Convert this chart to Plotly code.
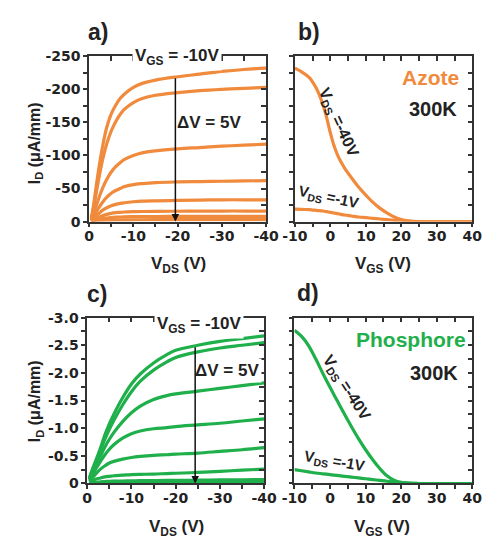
import plotly.graph_objects as go

# ---------------- DATA ----------------
# Panel a (Azote): output characteristics, I_D (uA/mm) vs V_DS (V); V_GS from -10 V, step 5 V
vds_a = [-0.5, -1, -2, -3, -4, -5, -6, -7, -8, -10, -12, -15, -20, -25, -30, -35, -40]
id_a_vgs_m10 = [-5, -25, -72, -112, -143, -163, -176, -186, -193, -203, -209, -214, -219, -223, -227, -230, -232]
id_a_vgs_m5 = [-4, -20, -58, -92, -118, -137, -151, -162, -170, -180, -186, -191, -195, -198, -200, -201.5, -203]
id_a_vgs_0 = [-2, -12, -32, -50, -64, -75, -83, -89, -94, -100, -104, -107, -110, -112, -114, -115.5, -117]
id_a_vgs_5 = [-1, -7, -19, -29, -37, -43, -47, -50, -53, -56, -57.5, -59, -60, -60.5, -61, -61.5, -62]
id_a_vgs_10 = [-1, -4, -11, -17, -21, -24, -26, -27.5, -28.5, -30, -31, -31.5, -32, -32.5, -33, -33, -33]
id_a_vgs_15 = [-0.5, -2, -6, -9, -11, -12.5, -13.5, -14, -14.5, -15, -15.3, -15.5, -15.7, -15.8, -16, -16, -16]
id_a_vgs_20 = [-0.3, -1, -3, -4.5, -5.5, -6.2, -6.7, -7, -7.2, -7.5, -7.6, -7.7, -7.8, -7.9, -8, -8, -8]
id_a_vgs_25 = [-0.1, -0.5, -1.2, -1.8, -2.1, -2.3, -2.5, -2.6, -2.7, -2.8, -2.85, -2.9, -2.9, -2.95, -3, -3, -3]

# Panel b (Azote): transfer characteristics, I_D (uA/mm) vs V_GS (V)
vgs_b = [-10, -8, -6, -5, -4, -3, -2, -1, 0, 1, 2, 3, 4, 6, 8, 10, 12, 14, 16, 18, 20, 22, 25, 30, 35, 40]
id_b_vds_m40 = [-232, -226, -218, -211, -202, -190, -175, -156, -134, -115, -101, -90, -81, -66, -52, -40, -29, -20, -13, -7, -3, -1, 0, 0, 0, 0]
id_b_vds_m1 = [-19, -18.5, -18, -17.5, -17, -16.5, -16, -15, -14, -13, -12, -11, -10, -8.5, -7, -6, -5, -4, -3, -2, -1.2, -0.6, 0, 0, 0, 0]

# Panel c (Phosphore): output characteristics, I_D (uA/mm) vs V_DS (V)
vds_c = [-0.5, -1, -2, -3, -4, -5, -6, -8, -10, -12, -15, -18, -20, -25, -30, -35, -40]
id_c_vgs_m10 = [-0.10, -0.22, -0.43, -0.64, -0.88, -1.08, -1.25, -1.55, -1.80, -1.98, -2.18, -2.33, -2.41, -2.50, -2.57, -2.62, -2.67]
id_c_vgs_m5 = [-0.09, -0.20, -0.40, -0.60, -0.80, -0.98, -1.14, -1.42, -1.66, -1.85, -2.05, -2.20, -2.28, -2.38, -2.45, -2.50, -2.55]
id_c_vgs_0 = [-0.08, -0.17, -0.34, -0.50, -0.66, -0.80, -0.92, -1.12, -1.28, -1.40, -1.52, -1.59, -1.62, -1.67, -1.72, -1.77, -1.82]
id_c_vgs_5 = [-0.06, -0.13, -0.27, -0.40, -0.52, -0.62, -0.70, -0.82, -0.90, -0.95, -0.99, -1.01, -1.03, -1.06, -1.09, -1.13, -1.17]
id_c_vgs_10 = [-0.04, -0.09, -0.18, -0.26, -0.32, -0.37, -0.40, -0.44, -0.47, -0.49, -0.51, -0.52, -0.53, -0.55, -0.58, -0.61, -0.65]
id_c_vgs_15 = [-0.02, -0.04, -0.08, -0.10, -0.12, -0.13, -0.14, -0.15, -0.16, -0.165, -0.17, -0.18, -0.185, -0.20, -0.22, -0.24, -0.26]
id_c_vgs_20 = [-0.005, -0.01, -0.02, -0.03, -0.035, -0.04, -0.042, -0.045, -0.048, -0.05, -0.052, -0.055, -0.056, -0.06, -0.064, -0.067, -0.07]
id_c_vgs_25 = [-0.002, -0.004, -0.007, -0.01, -0.012, -0.013, -0.014, -0.015, -0.016, -0.016, -0.017, -0.017, -0.018, -0.018, -0.019, -0.02, -0.02]

# Panel d (Phosphore): transfer characteristics, I_D (uA/mm) vs V_GS (V)
vgs_d = [-10, -8, -6, -4, -2, 0, 2, 4, 6, 8, 10, 12, 14, 16, 18, 20, 22, 25, 30, 35, 40]
id_d_vds_m40 = [-2.77, -2.66, -2.49, -2.25, -1.99, -1.74, -1.50, -1.26, -1.03, -0.81, -0.61, -0.43, -0.27, -0.14, -0.06, -0.02, -0.005, 0, 0, 0, 0]
id_d_vds_m1 = [-0.25, -0.23, -0.21, -0.19, -0.175, -0.16, -0.145, -0.13, -0.115, -0.10, -0.085, -0.07, -0.055, -0.04, -0.03, -0.015, -0.005, 0, 0, 0, 0]

x_ticks_out = [0, -5, -10, -15, -20, -25, -30, -35, -40]
x_text_out = ["0", "", "-10", "", "-20", "", "-30", "", "-40"]
x_ticks_tr = [-10, -5, 0, 5, 10, 15, 20, 25, 30, 35, 40]
x_text_tr = ["-10", "", "0", "", "10", "", "20", "", "30", "", "40"]
y_ticks_a = [0, -25, -50, -75, -100, -125, -150, -175, -200, -225, -250]
y_text_a = ["0", "", "-50", "", "-100", "", "-150", "", "-200", "", "-250"]
y_ticks_c = [0, -0.25, -0.5, -0.75, -1.0, -1.25, -1.5, -1.75, -2.0, -2.25, -2.5, -2.75, -3.0]
y_text_c = ["0", "", "-0.5", "", "-1.0", "", "-1.5", "", "-2.0", "", "-2.5", "", "-3.0"]

# ---------------- STYLE ----------------
# The page body keeps its default 8 px margin, so the figure is 16 px smaller than the window
# and every target pixel position (measured in the window) is shifted by 8 px.
WIN_W, WIN_H = 499, 547
MARG = 8
W, H = WIN_W - 2 * MARG, WIN_H - 2 * MARG
ORANGE = "#F08A3C"
GREEN = "#1FAF4B"
AX = "#333333"
FONT = "Liberation Sans"
TFONT = "DejaVu Sans"


def px(x):
    return (x - MARG) / W


def py(y):
    return 1 - (y - MARG) / H


fig = go.Figure()

curves_a = [id_a_vgs_m10, id_a_vgs_m5, id_a_vgs_0, id_a_vgs_5, id_a_vgs_10, id_a_vgs_15, id_a_vgs_20, id_a_vgs_25]
curves_c = [id_c_vgs_m10, id_c_vgs_m5, id_c_vgs_0, id_c_vgs_5, id_c_vgs_10, id_c_vgs_15, id_c_vgs_20, id_c_vgs_25]

for c in curves_a:
    fig.add_trace(go.Scatter(x=vds_a, y=c, mode="lines", line=dict(color=ORANGE, width=3.2, shape="spline"),
                             xaxis="x", yaxis="y", showlegend=False))
for c in [id_b_vds_m40, id_b_vds_m1]:
    fig.add_trace(go.Scatter(x=vgs_b, y=c, mode="lines", line=dict(color=ORANGE, width=3.2, shape="spline"),
                             xaxis="x2", yaxis="y2", showlegend=False))
for c in curves_c:
    fig.add_trace(go.Scatter(x=vds_c, y=c, mode="lines", line=dict(color=GREEN, width=3.2, shape="spline"),
                             xaxis="x3", yaxis="y3", showlegend=False))
for c in [id_d_vds_m40, id_d_vds_m1]:
    fig.add_trace(go.Scatter(x=vgs_d, y=c, mode="lines", line=dict(color=GREEN, width=3.2, shape="spline"),
                             xaxis="x4", yaxis="y4", showlegend=False))

# empty helper traces so that the mirrored top / right axes get drawn
for xa_, ya_ in [("x5", "y"), ("x", "y5"), ("x6", "y2"), ("x2", "y6"),
                 ("x7", "y3"), ("x3", "y7"), ("x8", "y4"), ("x4", "y8")]:
    fig.add_trace(go.Scatter(x=[None], y=[None], mode="lines", xaxis=xa_, yaxis=ya_,
                             showlegend=False, hoverinfo="skip"))

tickfont = dict(family=TFONT, size=14, color="#222", weight="bold")


def xax(domain, anchor, rng, vals, texts, labels=True, is_x=True):
    d = dict(domain=domain, anchor=anchor, range=rng, tickvals=vals, ticktext=texts,
             ticks="outside", ticklen=4, tickwidth=1.5, tickcolor=AX, showline=True,
             linewidth=1.5, linecolor=AX, showgrid=False, zeroline=False,
             showticklabels=labels, tickfont=tickfont, fixedrange=True)
    if is_x:
        d["ticklabelstandoff"] = -3
    return d


def top_ax(over, anchor, rng, vals):
    return dict(overlaying=over, anchor=anchor, side="top", range=rng, tickvals=vals,
                ticks="inside", ticklen=5, tickwidth=1.5, tickcolor=AX, showline=True,
                linewidth=1.5, linecolor=AX, showgrid=False, zeroline=False,
                showticklabels=False, fixedrange=True)


def right_ax(over, anchor, rng, vals):
    return dict(overlaying=over, anchor=anchor, side="right", range=rng, tickvals=vals,
                ticks="inside", ticklen=5, tickwidth=1.5, tickcolor=AX, showline=True,
                linewidth=1.5, linecolor=AX, showgrid=False, zeroline=False,
                showticklabels=False, fixedrange=True)


xa = [px(80), px(267)]
xb = [px(297.5), px(485)]
xc = [px(78), px(265)]
xd = [px(297), px(485)]
yab = [py(220), py(49.5)]
ycd = [py(490), py(319)]

layout_axes = dict(
    xaxis=xax(xa, "y", [0, -40], x_ticks_out, x_text_out),
    yaxis=xax(yab, "x", [0, -250], y_ticks_a, y_text_a, is_x=False),
    xaxis2=xax(xb, "y2", [-10, 40], x_ticks_tr, x_text_tr),
    yaxis2=xax(yab, "x2", [0, -250], y_ticks_a, y_text_a, labels=False, is_x=False),
    xaxis3=xax(xc, "y3", [0, -40], x_ticks_out, x_text_out),
    yaxis3=xax(ycd, "x3", [0, -3.0], y_ticks_c, y_text_c, is_x=False),
    xaxis4=xax(xd, "y4", [-10, 40], x_ticks_tr, x_text_tr),
    yaxis4=xax(ycd, "x4", [0, -3.0], y_ticks_c, y_text_c, labels=False, is_x=False),
    xaxis5=top_ax("x", "y", [0, -40], x_ticks_out),
    yaxis5=right_ax("y", "x", [0, -250], y_ticks_a),
    xaxis6=top_ax("x2", "y2", [-10, 40], x_ticks_tr),
    yaxis6=right_ax("y2", "x2", [0, -250], y_ticks_a),
    xaxis7=top_ax("x3", "y3", [0, -40], x_ticks_out),
    yaxis7=right_ax("y3", "x3", [0, -3.0], y_ticks_c),
    xaxis8=top_ax("x4", "y4", [-10, 40], x_ticks_tr),
    yaxis8=right_ax("y4", "x4", [0, -3.0], y_ticks_c),
)

ann = []


def text(x, y, t, size=15, color="#222", angle=0, bg=None, family=FONT, weight="bold"):
    d = dict(x=px(x), y=py(y), xref="paper", yref="paper", text=t, showarrow=False,
             font=dict(family=family, size=size, color=color, weight=weight),
             textangle=angle, xanchor="center", yanchor="middle")
    if bg:
        d["bgcolor"] = bg
        d["borderpad"] = 2
    ann.append(d)


# panel labels
text(89, 25, "a)", size=23)
text(312, 25, "b)", size=23)
text(88, 295, "c)", size=23)
text(311, 294, "d)", size=23)

# axis titles
text(174, 265, "V<sub>DS</sub> (V)", size=17)
text(391, 265, "V<sub>GS</sub> (V)", size=17)
text(172, 536, "V<sub>DS</sub> (V)", size=17)
text(390, 536, "V<sub>GS</sub> (V)", size=17)
text(23, 139, "I<sub>D</sub> (μA/mm)", size=16, angle=-90)
text(23, 405, "I<sub>D</sub> (μA/mm)", size=16, angle=-90)

# in-plot labels
text(173, 50, "V<sub>GS</sub> = -10V", size=17, bg="white")
text(196, 327, "V<sub>GS</sub> = -10V", size=17, bg="white")
text(207, 118, "ΔV = 5V", size=17)
text(226, 373, "ΔV = 5V", size=17, bg="white")
text(441, 71, "Azote", size=21, color=ORANGE)
text(443, 104, "300K", size=20)
text(420, 342, "Phosphore", size=21, color=GREEN)
text(444, 376, "300K", size=20)
text(343, 118, "V<sub>DS</sub> =-40V", size=16, angle=65)
text(333, 195, "V<sub>DS</sub> =-1V", size=15, angle=12)
text(352, 392, "V<sub>DS</sub> =-40V", size=16, angle=57)
text(339, 467, "V<sub>DS</sub> =-1V", size=15, angle=10)

# arrows (V_GS step direction)
ann.append(dict(x=-19.5, y=0, ax=-19.5, ay=-219, xref="x", yref="y", axref="x", ayref="y",
                showarrow=True, arrowhead=2, arrowsize=1, arrowwidth=1.5, arrowcolor="#111",
                text="", standoff=0))
ann.append(dict(x=-24.4, y=0, ax=-24.4, ay=-2.49, xref="x3", yref="y3", axref="x3", ayref="y3",
                showarrow=True, arrowhead=2, arrowsize=1, arrowwidth=1.5, arrowcolor="#111",
                text="", standoff=0))

fig.update_layout(
    width=W, height=H, margin=dict(l=0, r=0, t=0, b=0),
    paper_bgcolor="white", plot_bgcolor="white",
    showlegend=False, annotations=ann, **layout_axes,
)

fig.write_html("out.html", config={"displayModeBar": False})
